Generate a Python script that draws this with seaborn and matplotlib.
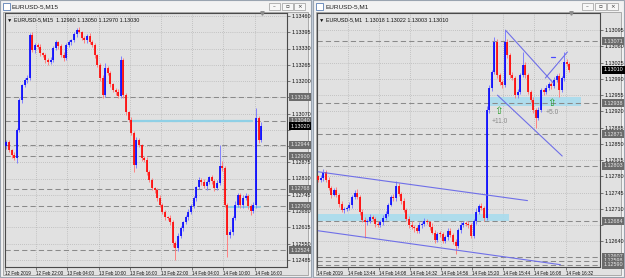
import numpy as np
import pandas as pd
import seaborn as sns
import matplotlib
matplotlib.use("Agg")
import matplotlib.pyplot as plt
from matplotlib.patches import Rectangle

# ---------------- data ----------------
# Left: EURUSD M15
first_open_l = 1.12940
close_l = [1.12956,1.12924,1.12904,1.12892,1.13004,1.13124,1.13184,1.13204,1.13212,1.13384,
           1.13324,1.13344,1.13336,1.13312,1.13304,1.13284,1.13276,1.13284,1.13332,1.13356,
           1.13340,1.13304,1.13292,1.13344,1.13356,1.13364,1.13388,1.13404,1.13396,1.13372,
           1.13364,1.13380,1.13356,1.13344,1.13304,1.13264,1.13212,1.13144,1.13252,1.13232,
           1.13188,1.13164,1.13156,1.13140,1.13284,1.13144,1.13076,1.13044,1.12992,1.12864,
           1.12964,1.12944,1.12892,1.12884,1.12836,1.12804,1.12772,1.12764,1.12732,1.12704,
           1.12676,1.12656,1.12652,1.12636,1.12552,1.12532,1.12580,1.12612,1.12636,1.12656,
           1.12676,1.12700,1.12732,1.12776,1.12804,1.12796,1.12780,1.12796,1.12816,1.12800,
           1.12772,1.12792,1.12860,1.12852,1.12704,1.12584,1.12596,1.12652,1.12704,1.12744,
           1.12704,1.12732,1.12740,1.12700,1.12680,1.12704,1.13052,1.12964,1.13020]
hiw_l = [8,10,6,12,8,10,6,8,12,8,
         14,10,8,12,6,10,8,12,8,10,
         6,8,12,10,8,6,10,8,12,6,
         10,8,12,8,10,6,8,12,20,8,
         10,6,8,12,16,8,10,6,12,8,
         14,10,6,8,12,8,10,6,8,12,
         10,8,6,12,8,10,14,8,6,10,
         12,8,10,6,14,8,12,10,6,8,
         10,12,84,20,8,10,12,8,16,10,
         8,12,14,10,8,12,40,10,14]
low_l = [10,8,12,6,20,8,10,6,12,8,
         8,12,6,10,8,12,10,6,8,10,
         12,6,10,8,6,12,8,10,6,8,
         10,12,8,6,10,8,12,10,8,6,
         12,8,10,6,8,12,10,6,8,28,
         10,8,12,6,10,8,6,12,10,8,
         8,12,6,10,14,48,10,8,12,6,
         10,8,6,12,8,10,6,14,8,10,
         12,6,8,10,8,88,12,10,8,6,
         10,12,8,10,14,8,10,12,8]
time_labels_l = ["12 Feb 2019", "12 Feb 22:00", "13 Feb 04:00", "13 Feb 10:00", "13 Feb 16:00",
                 "13 Feb 22:00", "14 Feb 04:00", "14 Feb 10:00", "14 Feb 16:00"]
price_ticks_l = [1.13460, 1.13395, 1.13330, 1.13265, 1.13200, 1.13135, 1.13070, 1.13005,
                 1.12940, 1.12875, 1.12810, 1.12745, 1.12680, 1.12615, 1.12550, 1.12485]
levels_l = [1.13136, 1.13040, 1.12944, 1.12900, 1.12768, 1.12700, 1.12524]
current_l = 1.13020

# Right: EURUSD M1
first_open_r = 1.12780
close_r = [1.12773,1.12777,1.12790,1.12773,1.12755,1.12740,1.12751,1.12740,1.12721,1.12708,
           1.12710,1.12712,1.12719,1.12736,1.12745,1.12736,1.12704,1.12687,1.12682,1.12684,
           1.12693,1.12689,1.12678,1.12676,1.12682,1.12691,1.12699,1.12719,1.12736,1.12733,
           1.12760,1.12742,1.12727,1.12708,1.12689,1.12676,1.12671,1.12668,1.12663,1.12676,
           1.12678,1.12684,1.12682,1.12671,1.12659,1.12644,1.12657,1.12655,1.12641,1.12650,
           1.12663,1.12654,1.12639,1.12631,1.12665,1.12676,1.12680,1.12678,1.12676,1.12652,
           1.12684,1.12704,1.12717,1.12712,1.12691,1.12923,1.12970,1.13005,1.13069,1.12998,
           1.12983,1.12977,1.13069,1.13041,1.12998,1.12992,1.12955,1.12962,1.12998,1.13020,
           1.12998,1.12962,1.12945,1.12923,1.12906,1.12923,1.12966,1.12962,1.12970,1.12979,
           1.12975,1.12988,1.12996,1.12966,1.12992,1.13026,1.13022,1.13010]
hiw_r = [4,6,5,3,6,4,5,7,4,6,
         5,4,6,3,5,7,4,6,5,4,
         6,5,3,7,4,5,6,4,5,6,
         11,5,4,6,3,5,7,4,6,5,
         4,6,5,3,8,5,4,6,5,4,
         6,5,4,7,5,6,4,5,6,4,
         5,7,4,6,5,8,6,5,11,6,
         5,4,26,6,5,7,4,6,5,28,
         6,5,4,7,5,6,4,5,6,4,
         5,6,4,7,5,22,6,5]
low_r = [5,4,6,5,4,6,3,5,6,4,
         6,5,4,6,5,4,7,5,34,6,
         4,5,6,4,5,6,4,5,3,6,
         5,4,6,5,4,6,5,7,4,5,
         6,4,5,6,4,7,5,6,5,4,
         6,5,4,19,5,6,4,5,6,4,
         5,6,4,5,6,4,6,5,4,6,
         5,6,4,5,6,4,5,6,5,4,
         6,5,4,6,22,5,4,6,5,4,
         6,5,4,15,5,6,4,5]
time_labels_r = ["14 Feb 2019", "14 Feb 13:44", "14 Feb 14:08", "14 Feb 14:32", "14 Feb 14:56",
                 "14 Feb 15:20", "14 Feb 15:44", "14 Feb 16:08", "14 Feb 16:32"]
price_ticks_r = [1.13095, 1.13060, 1.13025, 1.12990, 1.12955, 1.12920, 1.12885, 1.12850,
                 1.12815, 1.12780, 1.12745, 1.12710, 1.12675, 1.12640]
levels_r = [1.13071, 1.12938, 1.12871, 1.12803, 1.12684, 1.12607, 1.12598, 1.12590]
current_r = 1.13010

# ---------------- style ----------------
sns.set_theme(style="white")
plt.rcParams["font.family"] = ["Liberation Sans", "DejaVu Sans"]

W, H = 625, 278
fig = plt.figure(figsize=(W / 100, H / 100), dpi=100)
fig.patch.set_facecolor("#c9d3e0")

BG = "#e1e1e1"
FRAME = "#f2f2f2"


def frect(x, y, w, h, **kw):
    r = Rectangle((x / W, 1 - (y + h) / H), w / W, h / H, transform=fig.transFigure, **kw)
    fig.add_artist(r)
    return r


def ftext(x, y, s, **kw):
    fig.text(x / W, 1 - y / H, s, **kw)


def window(x0, x1, title):
    frect(x0, 0, x1 - x0, H - 1, facecolor=FRAME, edgecolor="#9aa4b0", lw=0.8, zorder=-3)
    frect(x0 + 3, 12, x1 - x0 - 6, H - 15, facecolor=BG, edgecolor="#a0a0a0", lw=0.6, zorder=-2)
    frect(x0 + 3, 3, 7, 7, facecolor="#ffffff", edgecolor="#5b7fb5", lw=0.6, zorder=2)
    ftext(x0 + 12, 6.5, title, fontsize=4.6, color="#1e1e1e", va="center", ha="left")
    for k, sym in enumerate(["\u2013", "\u25ab", "\u00d7"]):
        bx = x1 - 42 + k * 12.5
        frect(bx, 3, 11, 7, facecolor="#f7f7f7", edgecolor="#9a9a9a", lw=0.5, zorder=2)
        ftext(bx + 5.5, 6.6, sym, fontsize=4, color="#333333", ha="center", va="center",
              family=["DejaVu Sans"])


window(0, 311, "EURUSD-5,M15")
window(313, 624, "EURUSD-5,M1")


def draw_panel(ax, first_open, closes, hiw, low, ticks, levels, current, tlabels,
               xlim, ylim, info, px_per_unit):
    closes = np.array(closes)
    opens = np.concatenate([[first_open], closes[:-1]])
    top = np.maximum(opens, closes)
    bot = np.minimum(opens, closes)
    highs = top + np.array(hiw) * 1e-5
    lows = bot - np.array(low) * 1e-5
    x = np.arange(len(closes))
    df = pd.DataFrame({"x": x, "o": opens, "c": closes, "h": highs, "l": lows})
    up = df["c"] >= df["o"]
    wick_cols = np.where(up, "#7f7fff", "#ff8080")
    body_cols = np.where(up, "#0000ff", "#ff0000")
    ax.vlines(df["x"], df["l"], df["h"], colors=wick_cols, lw=0.7, zorder=4)
    bmin = np.maximum(top - bot, 1.2 * px_per_unit)
    ax.vlines(df["x"], bot, bot + bmin, colors=body_cols, lw=1.2, zorder=5)

    ax.set_xlim(*xlim)
    ax.set_ylim(*ylim)
    ax.set_facecolor(BG)
    for s in ax.spines.values():
        s.set_color("#4a4a4a")
        s.set_linewidth(0.8)

    ax.yaxis.tick_right()
    span = ylim[1] - ylim[0]
    ax.set_yticks(ticks)
    marks = levels + [current]
    labs = []
    for t in ticks:
        near = any(abs(t - m) / span * 254 < 4.2 for m in marks)
        labs.append("" if near else f"{t:.5f}")
    ax.set_yticklabels(labs)
    ax.tick_params(axis="y", length=2, width=0.5, pad=1.5, labelsize=3.9, colors="#4a4a4a",
                   labelcolor="#111111")
    xt = [-0.5 + 12 * k for k in range(len(tlabels))]
    ax.set_xticks(xt)
    ax.set_xticklabels(tlabels, ha="left")
    ax.tick_params(axis="x", length=2, width=0.5, pad=1, labelsize=3.3, colors="#4a4a4a",
                   labelcolor="#111111", bottom=True)
    ax.grid(True, color="#a6a6a6", lw=0.5, linestyle=(0, (1, 2)), zorder=0)
    ax.set_axisbelow(True)

    for lv in levels:
        ax.axhline(lv, color="#8a8a8a", lw=0.75, linestyle=(0, (5, 3)), zorder=2)
        ax.text(1.012, lv, f"{lv:.5f}", transform=ax.get_yaxis_transform(), fontsize=3.9,
                color="#e8e8e8", va="center", ha="left", clip_on=False, zorder=10,
                bbox=dict(boxstyle="square,pad=0.25", fc="#6b6b6b", ec="none"))
    ax.text(1.012, current, f"{current:.5f}", transform=ax.get_yaxis_transform(), fontsize=3.9,
            color="#ffffff", va="center", ha="left", clip_on=False, zorder=11,
            bbox=dict(boxstyle="square,pad=0.25", fc="#000000", ec="none"))

    ax.text(0.008, 0.985, info, transform=ax.transAxes, fontsize=3.9, color="#111111",
            va="top", ha="left", zorder=12, family=["Liberation Sans", "DejaVu Sans"])
    ax.plot([len(closes) - 0.5], [ylim[1]], marker="v", color="#8c8c8c", markersize=2.5,
            clip_on=False, zorder=12)


axL = fig.add_axes([5 / W, 1 - 267 / H, 282 / W, 254 / H])
axR = fig.add_axes([317 / W, 1 - 267 / H, 283 / W, 254 / H])

draw_panel(axL, first_open_l, close_l, hiw_l, low_l, price_ticks_l, levels_l, current_l,
           time_labels_l, (-0.5, 107.96), (1.12456, 1.13472),
           "\u25bc EURUSD-5,M15  1.12980 1.13050 1.12970 1.13030", 0.00004)
draw_panel(axR, first_open_r, close_r, hiw_r, low_r, price_ticks_r, levels_r, current_r,
           time_labels_r, (-0.4, 108.8), (1.12585, 1.13132),
           "\u25bc EURUSD-5,M1  1.13018 1.13022 1.13003 1.13010", 0.0000215)

CYAN = "#8fd0e6"
axL.plot([47.6, 94.5], [1.13040, 1.13040], color=CYAN, lw=1.6, zorder=3)
axL.plot([85.3, 97.6], [1.12696, 1.12696], color=CYAN, lw=1.4, zorder=3)

axR.add_patch(Rectangle((-0.3, 1.12684), 74.1, 0.00015, facecolor="#a9dcee", edgecolor="none",
                        alpha=0.9, zorder=1.5))
axR.add_patch(Rectangle((65.8, 1.12932), 35.7, 0.00019, facecolor="#a9dcee", edgecolor="none",
                        alpha=0.9, zorder=1.5))
TL = "#6f6fe8"
trend_x = [[0, 80.8], [0, 93.5], [72.3, 90.8], [69.2, 94.2], [87.7, 96.2]]
trend_y = [[1.12790, 1.12728], [1.12663, 1.12590], [1.13095, 1.12981], [1.12955, 1.12824],
           [1.12992, 1.13048]]
for tx, ty in zip(trend_x, trend_y):
    sns.lineplot(x=tx, y=ty, ax=axR, color=TL, lw=0.8, zorder=6)
axR.plot([90.0, 91.6], [1.13037, 1.13037], color="#4a4aff", lw=0.9, zorder=6)
for ax_, ay_, txt, ty_ in [(69.6, 1.12921, "+11.0", 1.12898), (90.0, 1.12938, "+5.0", 1.12917)]:
    axR.text(ax_, ay_, "\u21e7", fontsize=7.5, color="#1f9a1f", ha="center", va="center",
             family=["DejaVu Sans"], zorder=8)
    axR.text(ax_ + 0.4, ty_, txt, fontsize=4.8, color="#8a8a8a", ha="center", va="center",
             zorder=8)

fig.savefig("out.png", dpi=100, facecolor=fig.get_facecolor())
